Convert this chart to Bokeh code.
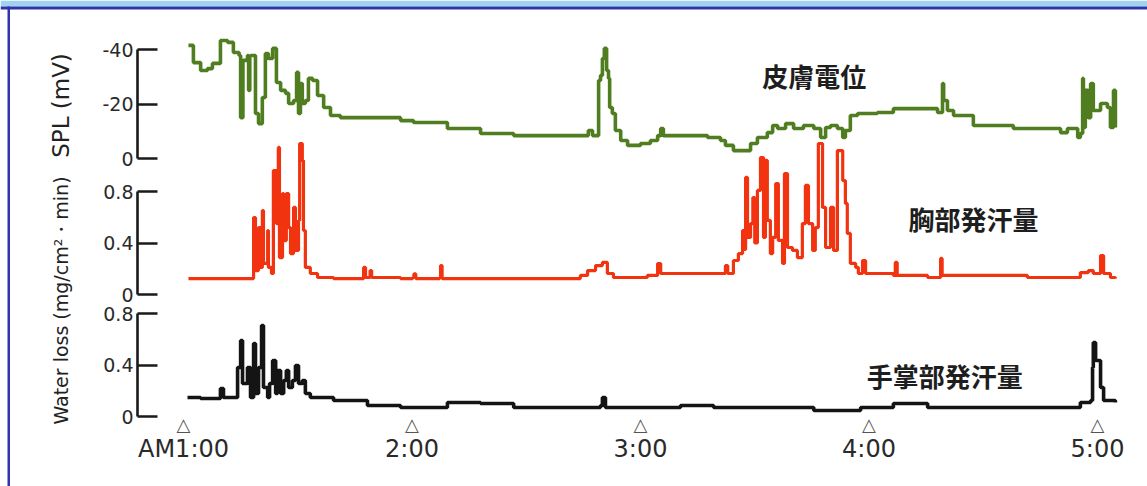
import math

from bokeh.embed import file_html
from bokeh.models import BoxAnnotation, FixedTicker, Label, LinearAxis, Range1d
from bokeh.plotting import figure
from bokeh.resources import INLINE

# ---------------------------------------------------------------- data
# time is in minutes after AM1:00
tick_minutes = [0, 60, 120, 180, 240]
tick_labels = ["AM1:00", "2:00", "3:00", "4:00", "5:00"]

spl_ticks = [-40, -20, 0]
spl_tick_labels = ["-40", "-20", "0"]
loss_ticks = [0, 0.4, 0.8]
loss_tick_labels = ["0", "0.4", "0.8"]

# skin potential level (mV)
spl_t = [1.3, 2.6, 4.5, 6.3, 7.6, 9.7, 11.6, 13.1, 14.6, 15.0, 15.6, 16.8, 17.1, 17.4,
         17.6, 18.9, 19.7, 20.7, 21.5, 22.3, 23.4, 23.9, 24.4, 25.5, 26.8, 27.6, 28.9,
         29.7, 30.2, 30.7, 31.2, 32.0, 32.8, 33.9, 35.2, 36.8, 38.6, 41.2, 48.3, 51.7,
         57.0, 60.4, 69.3, 78.0, 86.7, 95.6, 104.2, 106.3, 107.4, 108.7, 109.0, 109.5,
         110.0, 110.5, 111.1, 111.6, 111.9, 112.6, 113.4, 114.8, 116.6, 120.0, 122.6,
         124.5, 125.3, 126.0, 130.5, 137.6, 141.0, 142.3, 144.4, 147.0, 148.9, 150.7,
         153.3, 154.7, 156.0, 158.1, 160.2, 162.8, 165.5, 167.3, 168.6, 169.9, 171.7,
         173.1, 173.8, 175.1, 177.0, 182.2, 186.4, 195.4, 198.0, 199.3, 199.6, 200.6,
         202.2, 207.4, 212.7, 217.9, 230.3, 232.1, 234.8, 235.5, 236.1, 236.3, 236.8,
         237.6, 238.2, 238.9, 240.0, 240.8, 242.6, 243.4, 244.2, 244.7]
spl_mv = [-41.5, -35.2, -32.3, -33.0, -34.9, -43.3, -42.6, -38.9, -37.8, -15.0, -36.0,
          -37.8, -25.0, -37.5, -37.8, -16.5, -12.8, -22.4, -38.5, -36.7, -40.4, -40.4,
          -27.9, -25.0, -23.9, -20.2, -21.3, -31.6, -16.5, -27.5, -20.2, -21.3, -29.4,
          -28.6, -23.1, -18.7, -15.8, -15.0, -15.0, -15.0, -13.9, -13.2, -11.0, -9.2,
          -8.4, -8.4, -8.4, -10.3, -8.4, -8.4, -28.6, -30.5, -36.7, -40.4, -32.3, -29.4,
          -18.7, -16.5, -10.3, -6.6, -4.8, -5.5, -6.6, -8.4, -11.0, -8.4, -8.4, -7.7,
          -6.6, -4.8, -2.9, -2.9, -5.5, -7.7, -9.5, -12.1, -11.0, -12.8, -11.0, -12.1,
          -11.0, -7.7, -11.4, -12.1, -11.0, -7.7, -10.3, -15.8, -16.5, -16.9, -18.3,
          -18.3, -16.9, -27.5, -21.3, -17.6, -15.8, -12.1, -12.1, -11.0, -9.5, -11.0,
          -7.7, -9.2, -29.4, -11.4, -25.0, -15.0, -27.5, -17.6, -17.6, -20.2, -18.7,
          -11.4, -25.0, -11.4]

# chest sweat rate (mg/cm2/min)
chest_t = [1.3, 18.1, 18.4, 18.9, 19.7, 20.2, 20.7, 21.0, 22.1, 22.3, 23.1, 23.6, 24.4,
           24.9, 25.2, 26.0, 26.3, 27.0, 27.6, 28.1, 28.9, 29.4, 30.2, 30.5, 31.2, 31.5,
           32.0, 33.3, 35.2, 39.4, 46.8, 47.3, 47.8, 49.0, 49.4, 57.0, 60.2, 60.5, 61.0,
           67.3, 67.5, 67.9, 78.0, 104.2, 106.1, 108.2, 110.0, 111.3, 112.9, 121.8, 124.5,
           125.3, 139.2, 142.3, 142.9, 144.4, 145.7, 146.8, 147.3, 147.6, 148.1, 148.9,
           149.5, 150.0, 150.7, 151.5, 152.3, 152.8, 153.3, 154.1, 154.7, 155.5, 156.2,
           157.3, 157.8, 158.6, 159.9, 161.2, 162.5, 163.3, 164.1, 165.2, 165.9, 166.7,
           167.8, 168.6, 169.9, 170.7, 171.7, 173.1, 173.8, 174.3, 175.1, 176.5, 177.2,
           178.3, 179.1, 186.4, 186.9, 187.4, 195.4, 198.6, 198.8, 199.2, 212.7, 221.6,
           235.5, 237.6, 238.9, 240.8, 241.6, 243.4, 244.7]
chest_loss = [0.124, 0.124, 0.598, 0.186, 0.520, 0.210, 0.652, 0.241, 0.497, 0.210, 0.163,
              0.963, 0.551, 1.142, 0.287, 0.784, 0.419, 0.784, 0.520, 0.318, 0.676, 0.342,
              0.575, 1.173, 1.041, 0.497, 0.210, 0.163, 0.132, 0.124, 0.124, 0.210, 0.132,
              0.186, 0.132, 0.124, 0.132, 0.160, 0.124, 0.132, 0.225, 0.124, 0.124, 0.148,
              0.186, 0.225, 0.249, 0.163, 0.132, 0.148, 0.240, 0.163, 0.163, 0.225, 0.163,
              0.264, 0.318, 0.497, 0.350, 0.909, 0.443, 0.551, 0.753, 0.400, 0.808, 1.064,
              0.443, 1.041, 0.575, 0.318, 0.443, 0.862, 0.420, 0.241, 0.940, 0.365, 0.342,
              0.287, 0.551, 0.847, 0.551, 0.342, 0.520, 1.173, 0.676, 0.365, 0.676, 0.342,
              1.118, 0.885, 0.707, 0.474, 0.241, 0.210, 0.163, 0.264, 0.163, 0.148, 0.249,
              0.148, 0.132, 0.132, 0.280, 0.148, 0.148, 0.132, 0.170, 0.186, 0.163, 0.303,
              0.163, 0.132, 0.124]

# palm sweat rate (mg/cm2/min)
palm_t = [1.05, 4.5, 8.9, 9.7, 10.5, 13.1, 14.2, 15.0, 15.5, 16.8, 17.6, 18.4, 18.9, 19.7,
          20.5, 21.0, 22.1, 22.6, 23.4, 24.2, 24.7, 25.5, 26.3, 27.0, 27.6, 28.6, 29.4,
          30.2, 31.2, 32.0, 33.3, 39.4, 48.3, 57.0, 69.3, 78.0, 86.7, 104.2, 109.5, 110.0,
          110.8, 121.8, 130.5, 139.2, 151.5, 165.5, 177.8, 186.4, 195.4, 212.7, 230.3,
          235.5, 238.2, 238.7, 238.9, 239.5, 240.3, 240.8, 241.6, 244.7]
palm_loss = [0.148, 0.140, 0.140, 0.217, 0.148, 0.148, 0.381, 0.590, 0.256, 0.381, 0.148,
             0.567, 0.179, 0.381, 0.707, 0.225, 0.148, 0.256, 0.435, 0.179, 0.357, 0.179,
             0.280, 0.357, 0.225, 0.280, 0.396, 0.256, 0.280, 0.179, 0.148, 0.124, 0.085,
             0.070, 0.109, 0.101, 0.070, 0.070, 0.085, 0.148, 0.070, 0.070, 0.085, 0.070,
             0.070, 0.047, 0.070, 0.101, 0.070, 0.070, 0.070, 0.109, 0.124, 0.381, 0.575,
             0.435, 0.435, 0.225, 0.124, 0.109]

# ---------------------------------------------------------------- layout
W, H = 1147, 486
X0_PX = 183                      # screen x of AM1:00
PX_PER_MIN = 914 / 240           # AM1:00 -> 5:00


def vrange(zero_px, px_per_unit, flipped=False):
    """Range whose zero sits zero_px below the top of the canvas."""
    lo = -(H - zero_px) / px_per_unit
    hi = zero_px / px_per_unit
    return Range1d(start=-lo, end=-hi) if flipped else Range1d(start=lo, end=hi)


def ypos(zero_px, px_per_unit, px, flipped=False):
    v = (zero_px - px) / px_per_unit
    return -v if flipped else v


SPL = (158, 109 / 40)
CHEST = (294, 103 / 0.8)
PALM = (416, 103 / 0.8)
AXIS_X = (137 - X0_PX) / PX_PER_MIN
TITLE_X = (60 - X0_PX) / PX_PER_MIN

p = figure(
    width=W, height=H,
    x_range=Range1d(-X0_PX / PX_PER_MIN, (W - X0_PX) / PX_PER_MIN),
    y_range=vrange(*SPL, flipped=True),
    x_axis_type=None, y_axis_type=None,
    output_backend="svg", toolbar_location=None,
    min_border=0,
)
p.extra_y_ranges = {"chest": vrange(*CHEST), "palm": vrange(*PALM)}
p.outline_line_color = None
p.background_fill_color = "white"
p.border_fill_color = "white"

# slide frame
SCREEN = dict(left_units="screen", right_units="screen",
              top_units="screen", bottom_units="screen", fill_alpha=1, line_color=None)
p.add_layout(BoxAnnotation(left=0, right=W, top=H, bottom=H - 6,
                           fill_color="#9fd3ef", **SCREEN))
p.add_layout(BoxAnnotation(left=0, right=W, top=H - 6, bottom=H - 9,
                           fill_color="#2f34a8", **SCREEN))
p.add_layout(BoxAnnotation(left=7, right=9.5, top=H - 6, bottom=0,
                           fill_color="#2f34a8", **SCREEN))

# traces, drawn as held (stepped) recorder readings
p.step(spl_t, spl_mv, mode="after", line_color="#4f7d1f", line_width=3.6)
p.step(chest_t, chest_loss, mode="after", line_color="#f2330f", line_width=3.2,
       y_range_name="chest")
p.step(palm_t, palm_loss, mode="after", line_color="#141414", line_width=3.6,
       y_range_name="palm")

AX_COLOR = "#1a1a1a"
TICK_FONT = "DejaVu Sans"


def bracket_axis(range_name, ticks, labels):
    kw = {} if range_name is None else {"y_range_name": range_name}
    ax = LinearAxis(ticker=FixedTicker(ticks=ticks), bounds=(min(ticks), max(ticks)),
                    fixed_location=AXIS_X, **kw)
    ax.axis_line_color = AX_COLOR
    ax.axis_line_width = 2.6
    ax.major_tick_line_color = AX_COLOR
    ax.major_tick_line_width = 2.6
    ax.major_tick_in = 20
    ax.major_tick_out = 0
    ax.minor_tick_line_color = None
    ax.major_label_standoff = 4
    ax.major_label_text_font = TICK_FONT
    ax.major_label_text_font_size = "19px"
    ax.major_label_text_color = "#2a2a2a"
    ax.major_label_overrides = dict(zip(ticks, labels))
    p.add_layout(ax, "left")


bracket_axis(None, spl_ticks, spl_tick_labels)
bracket_axis("chest", loss_ticks, loss_tick_labels)
bracket_axis("palm", loss_ticks, loss_tick_labels)

# time axis: small triangle markers above the clock labels
mark_ax = LinearAxis(y_range_name="palm", fixed_location=ypos(*PALM, 413),
                     ticker=FixedTicker(ticks=tick_minutes),
                     major_label_overrides={m: "\u25b3" for m in tick_minutes})
time_ax = LinearAxis(y_range_name="palm", fixed_location=ypos(*PALM, 421),
                     ticker=FixedTicker(ticks=tick_minutes),
                     major_label_overrides=dict(zip(tick_minutes, tick_labels)))
for ax in (mark_ax, time_ax):
    ax.axis_line_color = None
    ax.major_tick_line_color = None
    ax.minor_tick_line_color = None
    ax.major_tick_in = 0
    ax.major_tick_out = 0
    ax.major_label_text_font = TICK_FONT
    ax.major_label_text_color = "#2a2a2a"
mark_ax.major_label_text_font_size = "18px"
mark_ax.major_label_text_color = "#555555"
mark_ax.major_label_standoff = 0
time_ax.major_label_text_font_size = "24px"
time_ax.major_label_standoff = 13
p.add_layout(mark_ax, "below")
p.add_layout(time_ax, "below")

# axis titles
p.add_layout(Label(x=TITLE_X, y=ypos(*SPL, 105, flipped=True), text="SPL (mV)",
                   angle=math.pi / 2, text_align="center", text_baseline="middle",
                   text_font="DejaVu Sans", text_font_size="23px", text_color="#222222"))
p.add_layout(Label(x=TITLE_X, y=ypos(*PALM, 300), y_range_name="palm",
                   text="Water loss (mg/cm\u00b2\u30fbmin)",
                   angle=math.pi / 2, text_align="center", text_baseline="middle",
                   text_font="DejaVu Sans", text_font_size="19px", text_color="#222222"))

# trace names
JP_FONT = "Noto Sans CJK JP"
NAME_STYLE = dict(text_align="left", text_baseline="middle", text_font=JP_FONT,
                  text_font_size="26px", text_font_style="bold", text_color="#1e1e1e")
p.add_layout(Label(x=152.0, y=-30.5, text="皮膚電位", **NAME_STYLE))
p.add_layout(Label(x=190.4, y=0.59, y_range_name="chest", text="胸部発汗量", **NAME_STYLE))
p.add_layout(Label(x=179.4, y=0.318, y_range_name="palm", text="手掌部発汗量", **NAME_STYLE))

open("out.html", "w").write(file_html(p, INLINE))
